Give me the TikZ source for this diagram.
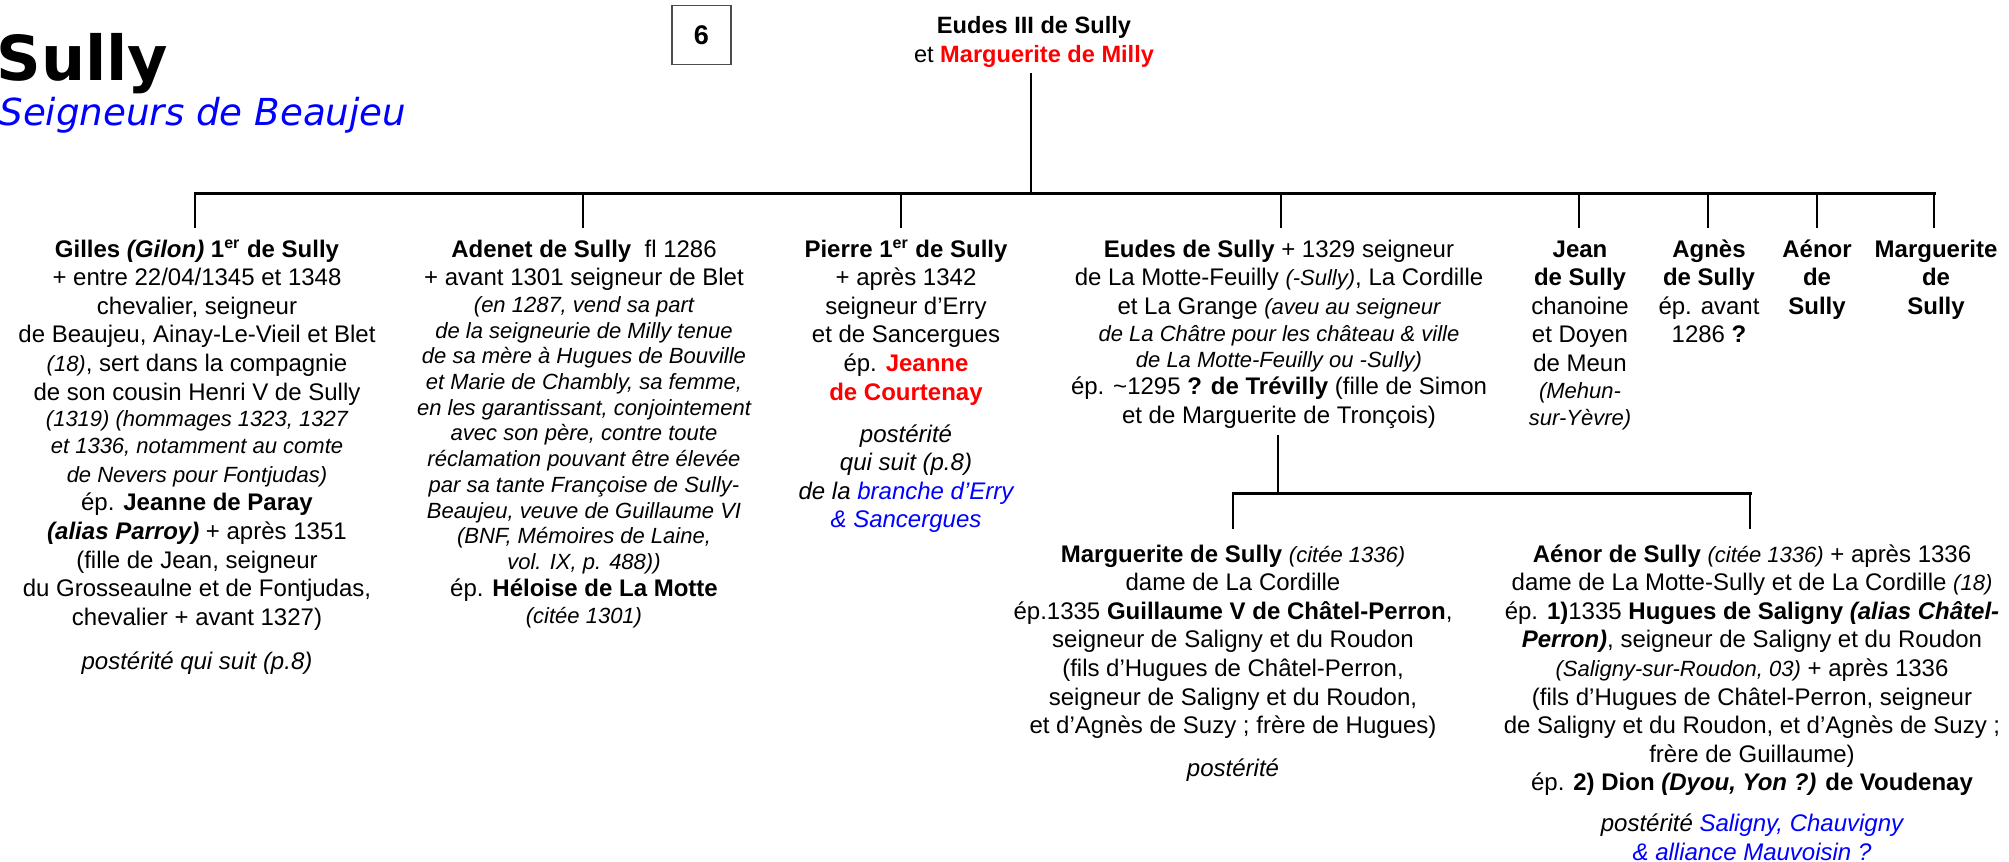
\documentclass[tikz,border=0pt]{standalone}
\usepackage{fontspec}
\setmainfont{Liberation Sans}
\newfontfamily\titlefont{DejaVu Sans}
\definecolor{tred}{RGB}{255,0,0}
\definecolor{tblue}{RGB}{0,0,255}
\newcommand\smi[1]{{\fontsize{11}{12.85}\selectfont\itshape #1}}
\newcommand\tsr{\rule{0pt}{11pt}}
\newcommand\lnS{\\[-0.9pt]}
\newcommand\lnSS{\\[-1.45pt]}
\begin{document}
\begin{tikzpicture}[x=0.5pt,y=-0.5pt,
  person/.style={align=center, inner sep=0pt, outer ysep=3.5pt, anchor=north, font=\fontsize{12}{14.3}\selectfont},
  person2/.style={person, outer ysep=5.5pt},
  barline/.style={line width=1.5pt, line cap=rect},
  dropline/.style={line width=1.1pt}]
\useasboundingbox (0,0) rectangle (2009,862);

% title
\node[anchor=base west, inner sep=0pt, font=\titlefont\fontsize{31}{31}\selectfont\bfseries] (title) at (-4,80) {Sully};
\node[anchor=base west, inner sep=0pt, text=tblue, font=\titlefont\fontsize{18.6}{20}\selectfont\itshape] (subtitle) at (-1,125) {Seigneurs de Beaujeu};

% page number box
\node[draw=black!70, line width=0.9pt, minimum width=29.5pt, minimum height=29.5pt, inner sep=0pt, font=\fontsize{13.5}{14}\selectfont\bfseries] (num) at (701.5,35) {6};

% parents
\node[person, outer ysep=3pt, font=\fontsize{11.8}{14.5}\selectfont] (parents) at (1034,5) {\tsr\textbf{Eudes III de Sully}\\
et \textcolor{tred}{\textbf{Marguerite de Milly}}};

% junctions
\coordinate (top) at (1031,193);
\coordinate (d1) at (195,193);
\coordinate (d2) at (583,193);
\coordinate (d3) at (901,193);
\coordinate (d4) at (1281,193);
\coordinate (d5) at (1579,193);
\coordinate (d6) at (1708,193);
\coordinate (d7) at (1817,193);
\coordinate (d8) at (1934,193);

% children
\node[person] (gilles) at (197,228) {\tsr\textbf{Gilles \textit{(Gilon)} 1\textsuperscript{er} de Sully}\\
+ entre 22/04/1345 et 1348\\
chevalier,  seigneur\\
de Beaujeu, Ainay-Le-Vieil et Blet\\
\smi{(18)}, sert dans la compagnie\\
de son cousin Henri V de Sully\lnS
\smi{(1319) (hommages 1323, 1327}\lnS
\smi{et 1336, notamment au comte}\\
\smi{de Nevers pour Fontjudas)}\\
ép. \textbf{Jeanne de Paray}\\
\textbf{\textit{(alias Parroy)}} + après 1351\\
(fille de Jean, seigneur\\
du Grosseaulne et de Fontjudas,\\
chevalier + avant 1327)\\[7.7pt]
\textit{postérité qui suit (p.8)}};

\node[person] (adenet) at (584,228) {\tsr\textbf{Adenet de Sully}\ \ fl 1286\\
+ avant 1301 seigneur de Blet\lnS
\smi{(en 1287, vend sa part}\lnSS
\smi{de la seigneurie de Milly tenue}\lnSS
\smi{de sa mère à Hugues de Bouville}\lnSS
\smi{et Marie de Chambly, sa femme,}\lnSS
\smi{en les garantissant, conjointement}\lnSS
\smi{avec son père, contre toute}\lnSS
\smi{réclamation pouvant être élevée}\lnSS
\smi{par sa tante Françoise de Sully-}\lnSS
\smi{Beaujeu, veuve de Guillaume VI}\lnSS
\smi{(BNF, Mémoires de Laine,}\lnSS
\smi{vol. IX, p. 488))}\lnS
ép. \textbf{Héloise de La Motte}\lnS
\smi{(citée 1301)}};

\node[person] (pierre) at (906,228) {\tsr\textbf{Pierre 1\textsuperscript{er} de Sully}\\
+ après 1342\\
seigneur d’Erry\\
et de Sancergues\\
ép. \textcolor{tred}{\textbf{Jeanne}}\\
\textcolor{tred}{\textbf{de Courtenay}}\\[6.7pt]
\textit{postérité}\\
\textit{qui suit (p.8)}\\
\textit{de la \textcolor{tblue}{branche d’Erry}}\\
\textit{\textcolor{tblue}{\& Sancergues}}};

\node[person] (eudes) at (1279,228) {\tsr\textbf{Eudes de Sully} + 1329 seigneur\\
de La Motte-Feuilly \smi{(-Sully)}, La Cordille\\
et La Grange \smi{(aveu au seigneur}\lnS
\smi{de La Châtre pour les château \& ville}\lnS
\smi{de La Motte-Feuilly ou -Sully)}\lnS
ép. \textasciitilde1295 \textbf{? de Trévilly} (fille de Simon\\
et de Marguerite de Tronçois)};

\node[person] (jean) at (1580,228) {\tsr\textbf{Jean}\\ \textbf{de Sully}\\ chanoine\\ et Doyen\\ de Meun\lnS \smi{(Mehun-}\lnS \smi{sur-Yèvre)}};
\node[person] (agnes) at (1709,228) {\tsr\textbf{Agnès}\\ \textbf{de Sully}\\ ép. avant\\ 1286 \textbf{?}};
\node[person] (aenor) at (1817,228) {\tsr\textbf{Aénor}\\ \textbf{de}\\ \textbf{Sully}};
\node[person] (marg) at (1936,228) {\tsr\textbf{Marguerite}\\ \textbf{de}\\ \textbf{Sully}};

% second generation
\coordinate (k0) at (1278,493);
\coordinate (k1) at (1233,493);
\coordinate (k2) at (1750,493);

\node[person2] (marg2) at (1233,529) {\tsr\textbf{Marguerite de Sully} \smi{(citée 1336)}\\
dame de La Cordille\\
ép.1335 \textbf{Guillaume V de Châtel-Perron},\\
seigneur de Saligny et du Roudon\\
(fils d’Hugues de Châtel-Perron,\\
seigneur de Saligny et du Roudon,\\
et d’Agnès de Suzy ; frère de Hugues)\\[7.2pt]
\textit{postérité}};

\node[person2] (aenor2) at (1752,529) {\tsr\textbf{Aénor de Sully} \smi{(citée 1336)} + après 1336\\
dame de La Motte-Sully et de La Cordille \smi{(18)}\\
ép. \textbf{1)}1335 \textbf{Hugues de Saligny \textit{(alias Châtel-}}\\
\textbf{\textit{Perron)}}, seigneur de Saligny et du Roudon\\
\smi{(Saligny-sur-Roudon, 03)} + après 1336\\
(fils d’Hugues de Châtel-Perron, seigneur\\
de Saligny et du Roudon, et d’Agnès de Suzy ;\\
frère de Guillaume)\\
ép. \textbf{2) Dion \textit{(Dyou, Yon ?)} de Voudenay}\\[6.2pt]
\textit{postérité \textcolor{tblue}{Saligny, Chauvigny}}\\
\textit{\textcolor{tblue}{\& alliance Mauvoisin ?}}};

% connectors
\draw[dropline] (parents.south -| top) -- (top);
\draw[barline] (d1) -- (d8);
\draw[dropline] (d1) -- (d1 |- gilles.north);
\draw[dropline] (d2) -- (d2 |- adenet.north);
\draw[dropline] (d3) -- (d3 |- pierre.north);
\draw[dropline] (d4) -- (d4 |- eudes.north);
\draw[dropline] (d5) -- (d5 |- jean.north);
\draw[dropline] (d6) -- (d6 |- agnes.north);
\draw[dropline] (d7) -- (d7 |- aenor.north);
\draw[dropline] (d8) -- (d8 |- marg.north);

\draw[dropline] (eudes.south -| k0) -- (k0);
\draw[barline] (k1) -- (k2);
\draw[dropline] (k1) -- (k1 |- marg2.north);
\draw[dropline] (k2) -- (k2 |- aenor2.north);
\end{tikzpicture}
\end{document}
